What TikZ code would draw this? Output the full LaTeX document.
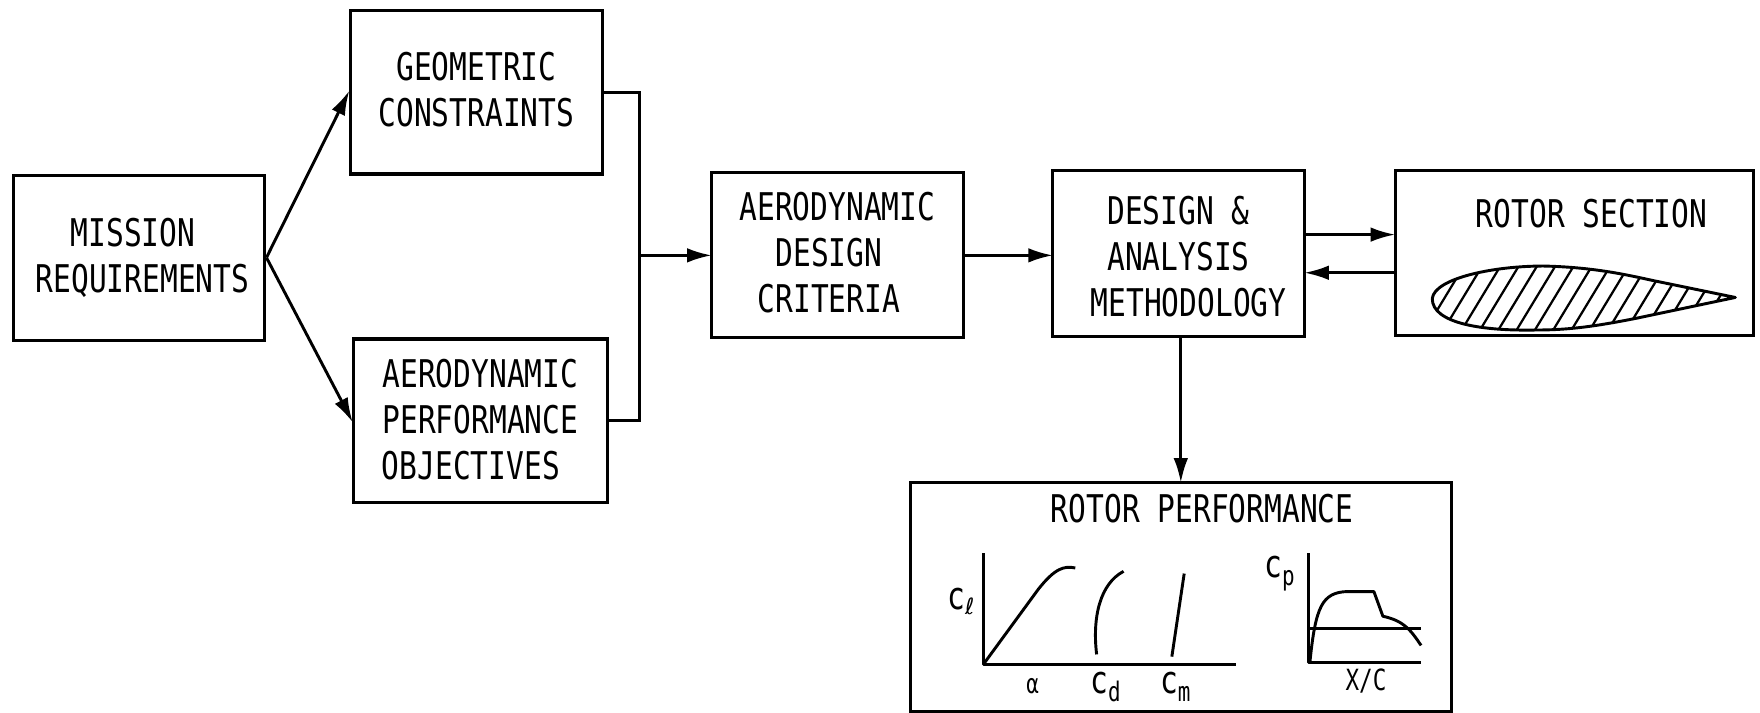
\documentclass[tikz,border=0pt]{standalone}
\usepackage{fontspec}
\usetikzlibrary{arrows.meta,calc}
\newfontfamily\lett[FakeStretch=0.775]{DejaVu Sans Mono}
\newfontfamily\symb{DejaVu Sans}
\newcommand{\sub}[2][-7pt]{\raisebox{#1}{\fontsize{24}{24}\selectfont #2}}
\tikzset{
  blockbox/.style={draw=black,line width=2.8pt,fill=white,rectangle,inner sep=0pt,align=center,
     font=\lett\fontsize{34}{41}\selectfont},
  caption/.style={inner sep=0pt,align=center,font=\lett\fontsize{34}{41}\selectfont},
  chartlabel/.style={inner sep=0pt,font=\lett\fontsize{34}{34}\selectfont},
  link/.style={line width=2.6pt,draw=black},
  flow/.style={link,shorten >=-1.5pt,-{Latex[length=22pt,width=13pt]}},
  curve/.style={line width=2.6pt,line join=round},
  hatch/.style={line width=2pt}
}
\begin{document}
\begin{tikzpicture}[x=1pt,y=-1pt]
\useasboundingbox (0,0) rectangle (1568,635);
\fill[white] (0,0) rectangle (1568,635);
\node[blockbox,minimum width=224pt,minimum height=147pt] (mission) at (124,229.5) {MISSION\hspace*{11pt}\\\hspace{6pt}REQUIREMENTS};
\node[blockbox,text depth=5pt,minimum width=225pt,minimum height=146pt] (geo) at (424.5,82) {GEOMETRIC\\CONSTRAINTS};
\node[blockbox,text depth=2pt,minimum width=226pt,minimum height=146pt] (perf) at (428,375) {AERODYNAMIC\\PERFORMANCE\\OBJECTIVES\hspace*{17pt}};
\node[blockbox,text depth=6pt,minimum width=224pt,minimum height=147pt] (crit) at (746,227.5) {AERODYNAMIC\\\hspace*{-15pt}DESIGN\\CRITERIA\hspace*{15pt}};
\node[blockbox,minimum width=224pt,minimum height=148pt] (design) at (1050,226) {\rule{0pt}{31pt}DESIGN \&\\ANALYSIS\\\hspace{18pt}METHODOLOGY};
\node[blockbox,minimum width=319pt,minimum height=147pt] (section) at (1402.5,225.5) {};
\node[caption] (sectiontitle) at (1418,190) {ROTOR SECTION};
\node[blockbox,minimum width=482pt,minimum height=204pt] (rotorperf) at (1052,532) {};
\node[caption] (perftitle) at (1071,453) {ROTOR PERFORMANCE};
\coordinate (bus) at (crit.west -| 570,0);
\draw[link] (geo.east) -| (bus) |- (perf.east);
\draw[flow] (bus) -- (crit.west);
\draw[flow] (mission.east) -- (geo.west);
\draw[flow] (mission.east) -- (perf.west);
\draw[flow] (crit.east) -- (crit.east -| design.west);
\draw[flow] ([yshift=17pt]design.east) -- ([yshift=17pt]design.east -| section.west);
\draw[flow] ([yshift=-17pt]design.east -| section.west) -- ([yshift=-17pt]design.east);
\draw[flow] ([xshift=2pt]design.south) -- ([xshift=2pt]design.south |- rotorperf.north);
% airfoil
\def\foil{(1276,266) .. controls (1278,248) and (1330,237) .. (1375,237) .. controls (1420,238) and (1450,245) .. (1473,250) -- (1546,265) -- (1458,283.5) .. controls (1425,290) and (1400,294) .. (1369,294) .. controls (1320,295) and (1276,288) .. (1276,266)}
\begin{scope}
\clip \foil;
\foreach \k in {0,...,17} {
  \draw[hatch] ({1266+16.3*\k},300) -- ++(40,-66);
}
\end{scope}
\draw[curve] \foil;
% charts
\draw[curve] (876,493) -- (876,592) -- (1101,592);
\draw[curve] (876,592) -- (925,525) .. controls (940,506) and (948,504) .. (958,506);
\draw[curve] (977,583) .. controls (973,550) and (980,520) .. (1001,509);
\draw[curve] (1044,585) -- (1055,511);
\draw[curve] (1166,493) -- (1166,590) -- (1266,590);
\draw[curve] (1166,560) -- (1266,560);
\draw[curve] (1167,590) .. controls (1172,540) and (1178,528) .. (1200,527) -- (1224,527) -- (1232,549) .. controls (1250,553) and (1256,560) .. (1266,575);
\node[chartlabel] (cl) at (856,536) {c\sub[-4pt]{\symb\fontsize{20}{20}\selectfont ℓ}};
\node[chartlabel] (alpha) at (920,611) {\fontsize{24}{24}\selectfont α};
\node[chartlabel] (cd) at (985,612) {c\sub{d}};
\node[chartlabel] (cm) at (1047,612) {c\sub{m}};
\node[chartlabel] (cp) at (1140,511) {c\sub{p}};
\node[chartlabel] (xc) at (1217,607) {\fontsize{26}{26}\selectfont X/C};
\end{tikzpicture}
\end{document}
